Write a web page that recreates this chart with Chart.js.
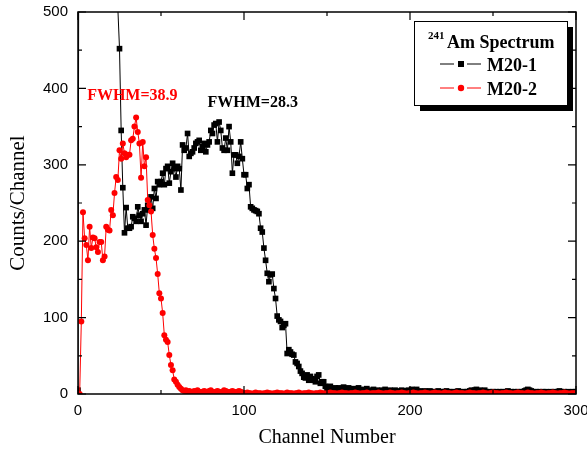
<!DOCTYPE html>
<html>
<head>
<meta charset="utf-8">
<script src="https://cdn.jsdelivr.net/npm/chart.js@4.4.1/dist/chart.umd.min.js"></script>
<style>
  html, body { margin: 0; padding: 0; background: #fff; }
  #wrap { width: 587px; height: 450px; }
</style>
</head>
<body>
<div id="wrap"><canvas id="spectrum" width="587" height="450"></canvas></div>
<script>
// counts per channel, channel = array index (0..300)
const m20_1 = [
  5, 1280, 1950, 2600, 3100, 3400, 3550, 3500, 3300, 3000,
  2700, 2400, 2100, 1850, 1600, 1400, 1220, 1060, 920, 800,
  700, 630, 580, 540, 505, 452, 345, 270, 211, 244,
  217, 217, 219, 232, 230, 226, 245, 234, 226, 236,
  241, 221, 247, 241, 258, 243, 269, 256, 278, 274,
  278, 289, 274, 295, 298, 276, 291, 302, 295, 284,
  298, 295, 267, 326, 319, 322, 341, 311, 315, 317,
  322, 328, 330, 332, 319, 324, 328, 317, 326, 330,
  345, 341, 352, 354, 330, 356, 345, 322, 319, 335,
  319, 350, 330, 289, 313, 313, 302, 311, 330, 308,
  287, 287, 269, 274, 245, 243, 241, 240, 239, 236,
  217, 212, 191, 175, 158, 147, 156, 157, 138, 125,
  102, 97, 95, 87, 90, 92, 53, 58, 55, 52,
  51, 42, 40, 36, 30, 27, 22, 21, 25, 18,
  23, 20, 18, 16, 23, 25, 14, 16, 16, 10,
  7, 8, 10, 7, 6, 8, 6, 8, 5, 7,
  9, 6, 5, 8, 6, 4, 7, 5, 6, 8,
  5, 4, 6, 5, 7, 4, 5, 3, 6, 4,
  5, 4, 3, 5, 4, 6, 3, 4, 5, 3,
  4, 5, 3, 4, 3, 5, 4, 3, 4, 5,
  3, 6, 5, 4, 6, 3, 4, 3, 2, 4,
  3, 3, 4, 2, 3, 3, 2, 4, 3, 2,
  3, 3, 4, 2, 3, 2, 3, 2, 3, 4,
  3, 2, 3, 2, 3, 3, 4, 5, 4, 5,
  6, 4, 5, 3, 4, 5, 3, 2, 3, 2,
  3, 2, 3, 2, 3, 2, 3, 2, 3, 4,
  2, 3, 2, 3, 2, 3, 2, 3, 2, 4,
  5, 6, 5, 4, 3, 2, 3, 2, 3, 2,
  3, 2, 3, 2, 2, 3, 2, 3, 2, 3,
  4, 3, 2, 3, 2, 3, 2, 2, 3, 2,
  3
];

const m20_2 = [
  0, 0, 95, 238, 204, 195, 175, 219, 191, 205,
  204, 192, 186, 199, 199, 175, 180, 219, 215, 214,
  241, 234, 263, 284, 280, 319, 308, 328, 315, 310,
  313, 313, 332, 334, 350, 362, 343, 328, 283, 330,
  298, 310, 254, 247, 239, 208, 190, 178, 157, 132,
  125, 106, 77, 71, 68, 51, 38, 31, 19, 16,
  12, 9, 7, 5, 4, 5, 3, 4, 3, 2,
  4, 3, 5, 3, 2, 3, 4, 3, 2, 4,
  5, 3, 2, 3, 4, 3, 2, 3, 5, 4,
  3, 2, 3, 4, 3, 2, 3, 4, 3, 2,
  1, 1, 2, 1, 1, 0, 1, 2, 1, 1,
  1, 0, 1, 1, 2, 1, 1, 0, 1, 1,
  2, 1, 1, 1, 0, 1, 2, 1, 1, 1,
  0, 1, 1, 2, 1, 0, 1, 1, 1, 2,
  1, 1, 0, 1, 1, 1, 2, 1, 1, 0,
  1, 1, 2, 1, 1, 1, 0, 1, 1, 2,
  1, 1, 1, 0, 1, 1, 1, 2, 1, 1,
  0, 1, 1, 1, 2, 1, 0, 1, 1, 1,
  1, 2, 1, 1, 0, 1, 1, 1, 2, 1,
  1, 0, 1, 1, 1, 2, 1, 1, 0, 1,
  1, 1, 2, 1, 1, 0, 1, 1, 1, 2,
  1, 1, 0, 1, 1, 2, 1, 1, 1, 0,
  1, 2, 1, 1, 1, 0, 1, 1, 2, 1,
  1, 1, 1, 0, 1, 1, 2, 1, 1, 1,
  0, 1, 1, 1, 2, 1, 1, 0, 1, 1,
  2, 1, 1, 1, 0, 1, 1, 1, 2, 1,
  1, 1, 0, 1, 1, 2, 1, 1, 1, 0,
  1, 2, 1, 1, 1, 0, 1, 1, 1, 2,
  1, 1, 0, 1, 1, 1, 2, 1, 1, 0,
  1, 1, 1, 2, 1, 1, 0, 1, 1, 1,
  1
];

const seriesNames = ["M20-1", "M20-2"];
const xLabelTicks = [0, 100, 200, 300];
const yLabelTicks = [0, 100, 200, 300, 400, 500];
const fwhmNotes = [
  { text: "FWHM=38.9", ch: 5.5, count: 390, color: "#ff0000" },
  { text: "FWHM=28.3", ch: 78, count: 381, color: "#000000" }
];

function toPoints(arr) {
  return arr.map(function(v, i) { return { x: i, y: v }; });
}

// frame with inward ticks on all four sides
const framePlugin = {
  id: "frame",
  afterDatasetsDraw(chart) {
    const ctx = chart.ctx;
    const a = chart.chartArea;
    const xs = chart.scales.x, ys = chart.scales.y;
    ctx.save();
    ctx.strokeStyle = "#000";
    ctx.lineWidth = 1.5;
    ctx.strokeRect(a.left, a.top, a.right - a.left, a.bottom - a.top);
    ctx.lineWidth = 1.2;
    ctx.beginPath();
    xs.ticks.forEach(function(t) {
      const px = xs.getPixelForValue(t.value);
      const len = t.value % 100 === 0 ? 8 : 4;
      ctx.moveTo(px, a.bottom); ctx.lineTo(px, a.bottom - len);
      ctx.moveTo(px, a.top); ctx.lineTo(px, a.top + len);
    });
    ys.ticks.forEach(function(t) {
      const py = ys.getPixelForValue(t.value);
      const len = t.value % 100 === 0 ? 8 : 4;
      ctx.moveTo(a.left, py); ctx.lineTo(a.left + len, py);
      ctx.moveTo(a.right, py); ctx.lineTo(a.right - len, py);
    });
    ctx.stroke();
    ctx.restore();
  },
  afterDraw(chart) {
    const ctx = chart.ctx;
    const a = chart.chartArea;
    const xs = chart.scales.x, ys = chart.scales.y;
    ctx.save();

    // FWHM notes
    ctx.font = "bold 16px 'Liberation Serif'";
    ctx.textBaseline = "middle";
    ctx.textAlign = "left";
    fwhmNotes.forEach(function(n) {
      ctx.fillStyle = n.color;
      ctx.fillText(n.text, xs.getPixelForValue(n.ch), ys.getPixelForValue(n.count));
    });

    // legend box with shadow
    const bw = 153, bh = 84;
    const bx = a.right - 9 - bw, by = a.top + 9;
    ctx.fillStyle = "#000";
    ctx.fillRect(bx + 6, by + 6, bw, bh);
    ctx.fillStyle = "#fff";
    ctx.fillRect(bx, by, bw, bh);
    ctx.strokeStyle = "#000";
    ctx.lineWidth = 1;
    ctx.strokeRect(bx + 0.5, by + 0.5, bw, bh);

    ctx.fillStyle = "#000";
    ctx.textBaseline = "alphabetic";
    ctx.font = "bold 11px 'Liberation Serif'";
    ctx.fillText("241", bx + 14, by + 18);
    ctx.font = "bold 18px 'Liberation Serif'";
    ctx.fillText("Am Spectrum", bx + 33, by + 27);

    const rows = [
      { name: seriesNames[0], color: "#000", y: by + 43, mark: "rect" },
      { name: seriesNames[1], color: "#ff0000", y: by + 67, mark: "circle" }
    ];
    rows.forEach(function(r) {
      ctx.strokeStyle = r.color;
      ctx.fillStyle = r.color;
      ctx.lineWidth = 1;
      ctx.beginPath();
      ctx.moveTo(bx + 26, r.y); ctx.lineTo(bx + 40, r.y);
      ctx.moveTo(bx + 53, r.y); ctx.lineTo(bx + 67, r.y);
      ctx.stroke();
      if (r.mark === "rect") {
        ctx.fillRect(bx + 44, r.y - 3, 6, 6);
      } else {
        ctx.beginPath();
        ctx.arc(bx + 47, r.y, 3.2, 0, Math.PI * 2);
        ctx.fill();
      }
      ctx.fillStyle = "#000";
      ctx.font = "bold 18px 'Liberation Serif'";
      ctx.fillText(r.name, bx + 73, r.y + 7);
    });
    ctx.restore();
  }
};

const ctx = document.getElementById("spectrum").getContext("2d");
new Chart(ctx, {
  type: "line",
  data: {
    datasets: [{
      label: seriesNames[0],
      data: toPoints(m20_1),
      borderColor: "#000000",
      backgroundColor: "#000000",
      borderWidth: 1,
      pointStyle: "rect",
      pointRadius: 4,
      pointBorderWidth: 0,
      order: 2
    }, {
      label: seriesNames[1],
      data: toPoints(m20_2),
      borderColor: "#ff0000",
      backgroundColor: "#ff0000",
      borderWidth: 1,
      pointStyle: "circle",
      pointRadius: 3,
      pointBorderWidth: 0,
      order: 1
    }]
  },
  options: {
    responsive: false,
    animation: false,
    devicePixelRatio: 1,
    layout: { padding: { top: 12, right: 11, left: 0, bottom: 0 } },
    plugins: {
      legend: { display: false },
      tooltip: { enabled: false }
    },
    scales: {
      x: {
        type: "linear",
        min: 0,
        max: 300,
        afterFit: function(s) {
          s.height = 56;
          s.paddingLeft = 0;
          s.paddingRight = 0;
        },
        grid: { display: false, drawTicks: false },
        border: { display: false },
        ticks: {
          stepSize: 50,
          padding: 8,
          color: "#000",
          font: { family: "'Liberation Sans'", size: 15 },
          maxRotation: 0,
          callback: function(v) { return xLabelTicks.includes(v) ? String(v) : ""; }
        },
        title: {
          display: true,
          text: "Channel Number",
          color: "#000",
          font: { family: "'Liberation Serif'", size: 20 },
          padding: { top: 0, bottom: 0 }
        }
      },
      y: {
        min: 0,
        max: 500,
        afterFit: function(s) {
          s.width = 78;
          s.paddingTop = 0;
          s.paddingBottom = 0;
        },
        grid: { display: false, drawTicks: false },
        border: { display: false },
        ticks: {
          stepSize: 50,
          padding: 10,
          color: "#000",
          font: { family: "'Liberation Sans'", size: 15 },
          callback: function(v) { return yLabelTicks.includes(v) ? String(v) : ""; }
        },
        title: {
          display: true,
          text: "Counts/Channel",
          color: "#000",
          font: { family: "'Liberation Serif'", size: 21 },
          padding: { top: 6, bottom: 0 }
        }
      }
    }
  },
  plugins: [framePlugin]
});
</script>
</body>
</html>
